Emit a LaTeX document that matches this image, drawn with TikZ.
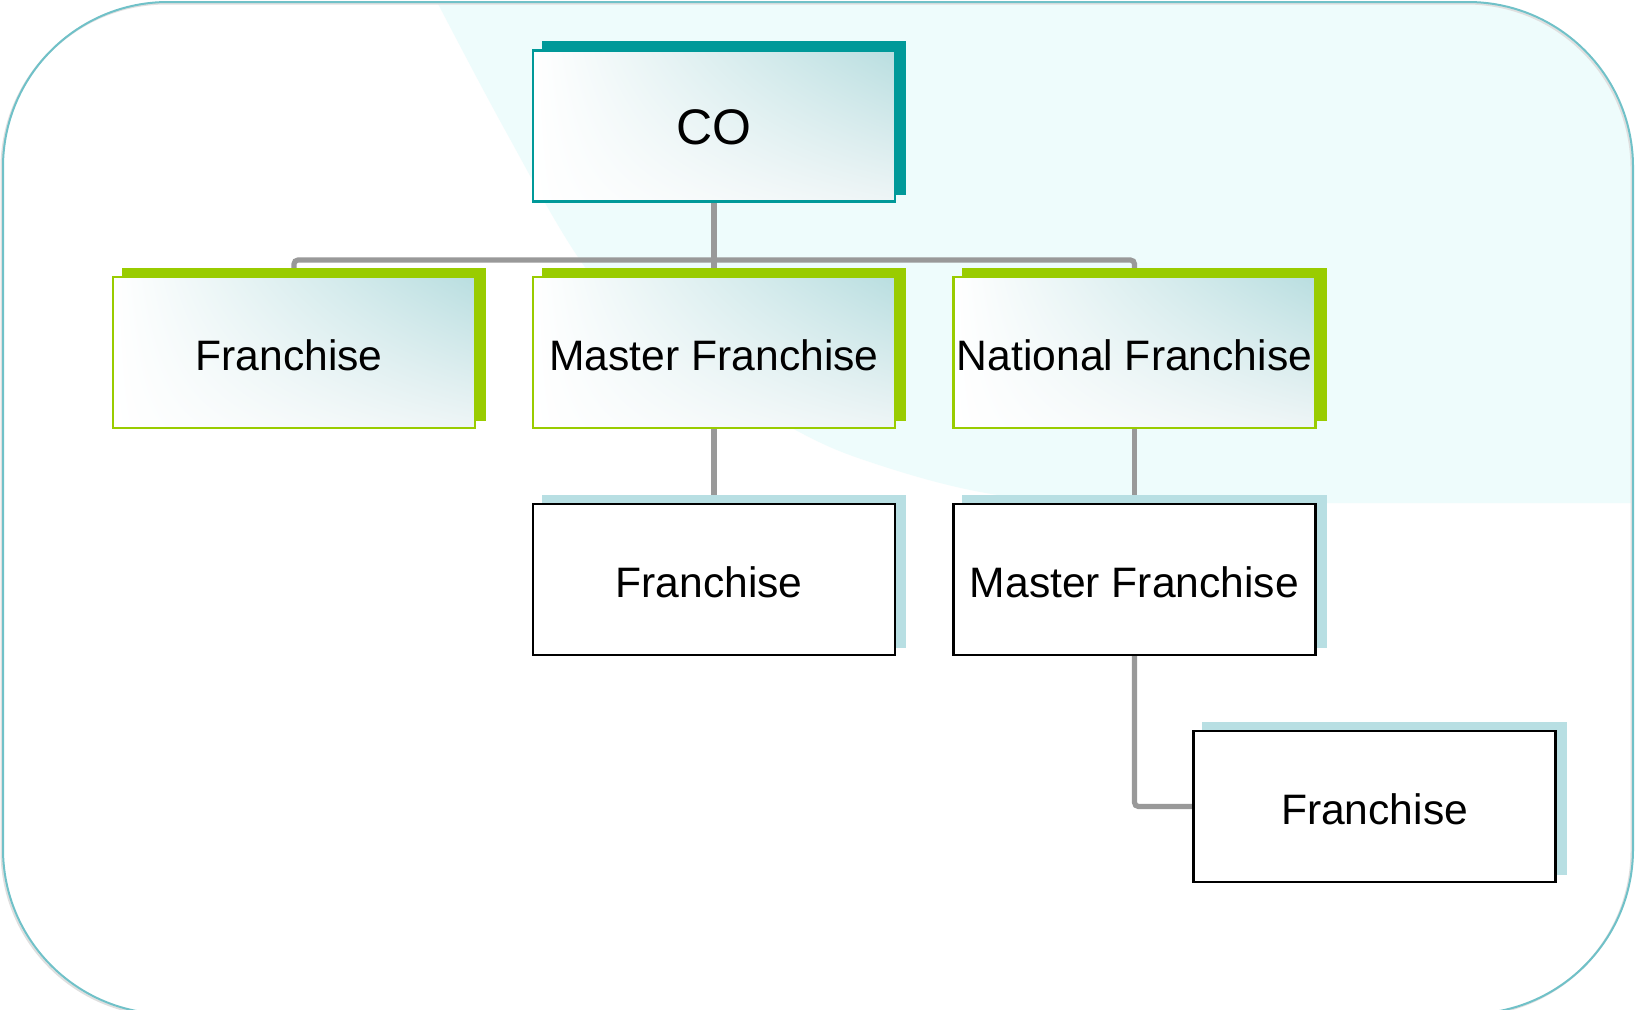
\documentclass[tikz,border=0pt]{standalone}
\usepackage{fontspec}
\setmainfont{Liberation Sans}
\usetikzlibrary{shadings}
\definecolor{frameteal}{HTML}{70C1C8}
\definecolor{bgcyan}{HTML}{EEFCFC}
\definecolor{coteal}{HTML}{009999}
\definecolor{lgreen}{HTML}{99CC00}
\definecolor{paleblue}{HTML}{B8DFE3}
\definecolor{conngray}{HTML}{999999}
\definecolor{gradteal}{HTML}{B9DEE0}
\definecolor{gradlow}{HTML}{EEF5F6}
\pgfdeclarelayer{bg}
\pgfdeclarelayer{mid}
\pgfsetlayers{bg,mid,main}
\newcommand\boxshadow[2]{\fill[#2] ([shift={(10,-8)}]#1.south west) rectangle ([shift={(10,-8)}]#1.north east);}
\begin{document}
\begin{tikzpicture}[x=0.5pt,y=-0.5pt,
  box/.style={rectangle, minimum width=181pt, minimum height=75.5pt, inner sep=0pt,
    line width=1.1pt, font=\fontsize{21.3}{25}\selectfont, text=black,
    text height=17.6pt, text depth=0pt},
  gradbox/.style={box, upper left=white, lower left=white,
    upper right=gradteal, lower right=gradlow},
  cobox/.style={gradbox, draw=coteal, font=\fontsize{25}{30}\selectfont,
    text height=18.5pt},
  greenbox/.style={gradbox, draw=lgreen},
  plainbox/.style={box, draw=black, fill=white},
  conn/.style={draw=conngray, line width=2.6pt, rounded corners=2pt},
  frame/.style={rounded corners=82.5pt}
]
\useasboundingbox (0,0) rectangle (1636,1009);

% nodes
\node[cobox] (co) at (714,126) {CO};
\node[greenbox] (f1) at (294,352.5) {Franchise\kern5pt};
\node[greenbox] (m1) at (714,352.5) {Master Franchise};
\node[greenbox] (n1) at (1134.5,352.5) {National Franchise};
\node[plainbox] (f2) at (714,579.5) {Franchise\kern5pt};
\node[plainbox] (m2) at (1134.5,579.5) {Master Franchise};
\node[plainbox] (f3) at (1374.5,806.5) {Franchise};

\begin{pgfonlayer}{bg}
  \fill[white, frame] (3,2) rectangle (1633,1014);
  \begin{scope}
    \clip[frame] (3,2) rectangle (1633,1014);
    \fill[bgcyan] plot[smooth, tension=0.6] coordinates
      {(436,0) (505,130) (580,260) (650,340) (790,427) (879,465) (998,495) (1130,503)}
      -- (1640,503) -- (1640,-5) -- (436,-5) -- cycle;
  \end{scope}
  \draw[gray!25, line width=1pt, frame] (1.5,3.5) rectangle (1631.5,1015.5);
  \draw[frameteal, line width=1pt, frame] (3,2) rectangle (1633,1014);
\end{pgfonlayer}

\begin{pgfonlayer}{mid}
  \coordinate (bar) at (714,260);
  \draw[conn] (co.south) -- (bar);
  \draw[conn] (bar) -| (f1.north);
  \draw[conn] (bar) -| (n1.north);
  \draw[conn] (bar) -- (m1.north);
  \draw[conn] (m1.south) -- (f2.north);
  \draw[conn] (n1.south) -- (m2.north);
  \draw[conn] (m2.south) |- (f3.west);
  \boxshadow{co}{coteal}
  \boxshadow{f1}{lgreen}
  \boxshadow{m1}{lgreen}
  \boxshadow{n1}{lgreen}
  \boxshadow{f2}{paleblue}
  \boxshadow{m2}{paleblue}
  \boxshadow{f3}{paleblue}
\end{pgfonlayer}
\end{tikzpicture}
\end{document}
